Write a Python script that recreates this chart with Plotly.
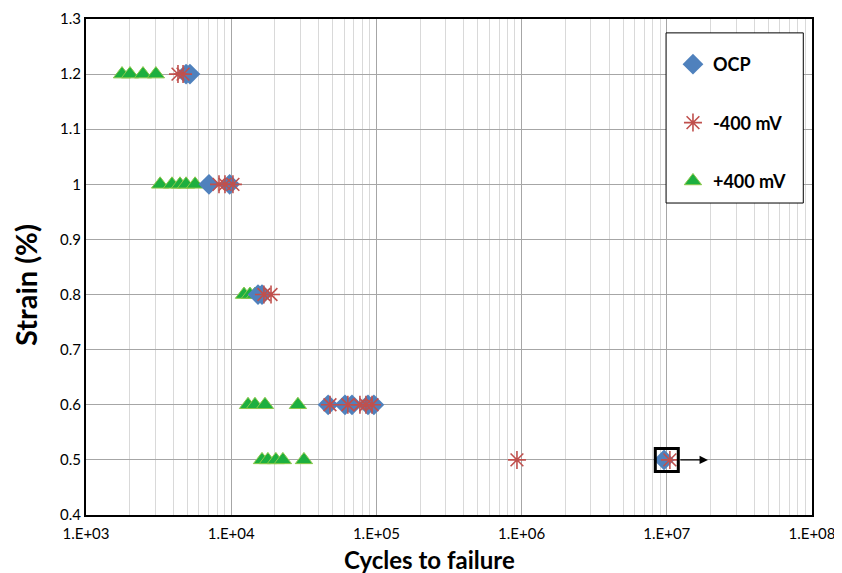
import math
import plotly.graph_objects as go

# OCP (diamonds)
ocp_x = [4890, 5200, 7030, 9760, 15300, 16300, 46500, 60800, 67900, 87500, 96100, 9.57e6]
ocp_y = [1.2, 1.2, 1.0, 1.0, 0.8, 0.8, 0.6, 0.6, 0.6, 0.6, 0.6, 0.5]
# -400 mV (asterisks)
neg_x = [4300, 4660, 8240, 9060, 10280, 16800, 18800, 47900, 63600, 77000, 84700, 93300, 9.29e5, 1.05e7]
neg_y = [1.2, 1.2, 1.0, 1.0, 1.0, 0.8, 0.8, 0.6, 0.6, 0.6, 0.6, 0.6, 0.5, 0.5]
# +400 mV (triangles)
pos_x = [1770, 2010, 2470, 3030, 3240, 3910, 4440, 4890, 5640, 12250, 13470, 14580,
         13060, 14580, 17090, 28800, 16300, 17900, 20300, 22700, 31700]
pos_y = [1.2, 1.2, 1.2, 1.2, 1.0, 1.0, 1.0, 1.0, 1.0, 0.8, 0.8, 0.8,
         0.6, 0.6, 0.6, 0.6, 0.5, 0.5, 0.5, 0.5, 0.5]
# run-out (no failure) point and arrow end
runout_x = [1.0e7]
runout_y = [0.5]
arrow_end_x = 1.92e7

x_tickvals = [1e3, 1e4, 1e5, 1e6, 1e7, 1e8]
x_ticktext = ["1.E+03", "1.E+04", "1.E+05", "1.E+06", "1.E+07", "1.E+08"]
y_tickvals = [0.4, 0.5, 0.6, 0.7, 0.8, 0.9, 1.0, 1.1, 1.2, 1.3]
y_ticktext = ["0.4", "0.5", "0.6", "0.7", "0.8", "0.9", "1", "1.1", "1.2", "1.3"]
x_title = "Cycles to failure"
y_title = "Strain (%)"

FONT = "Lato, 'Open Sans', sans-serif"

fig = go.Figure()
fig.add_trace(go.Scatter(x=pos_x, y=pos_y, mode="markers", name="+400 mV", legendrank=3,
                         legendgroup="c",
                         marker=dict(symbol="triangle-up", size=15, color="#1DAF3F",
                                     line=dict(color="#8CC84B", width=1))))
fig.add_trace(go.Scatter(x=ocp_x, y=ocp_y, mode="markers", name="OCP", legendrank=1,
                         legendgroup="a",
                         marker=dict(symbol="diamond", size=16, color="#4F81BD",
                                     line=dict(color="#4F81BD", width=0))))
fig.add_trace(go.Scatter(x=neg_x, y=neg_y, mode="markers", name="-400 mV", legendrank=2,
                         legendgroup="b",
                         marker=dict(symbol="asterisk-open", size=15, color="#C0504D",
                                     line=dict(color="#C0504D", width=1.6))))
# run-out box
fig.add_trace(go.Scatter(x=runout_x, y=runout_y, mode="markers", showlegend=False,
                         marker=dict(symbol="square-open", size=23, color="black",
                                     line=dict(color="black", width=3))))
fig.add_annotation(x=math.log10(arrow_end_x), y=runout_y[0],
                   ax=math.log10(runout_x[0] * 1.21), ay=runout_y[0],
                   xref="x", yref="y", axref="x", ayref="y", text="", showarrow=True,
                   arrowhead=2, arrowsize=1.4, arrowwidth=1.2, arrowcolor="black")

# axis titles
fig.add_annotation(text="<b>" + x_title + "</b>", xref="paper", yref="paper",
                   x=0.4725, y=-0.0907, xanchor="center", yanchor="middle", showarrow=False,
                   font=dict(family=FONT, size=24, color="black"))
fig.add_annotation(text="<b>" + y_title + "</b>", xref="paper", yref="paper",
                   x=-0.084, y=0.4637, xanchor="center", yanchor="middle", showarrow=False,
                   textangle=-90, font=dict(family=FONT, size=29, color="black"))

# legend frame
fig.add_shape(type="rect", xref="paper", yref="paper", x0=0.799, x1=0.988, y0=0.629, y1=0.972,
              line=dict(color="black", width=1), fillcolor="white", layer="above")

fig.update_xaxes(type="log", range=[3, 8], tickvals=x_tickvals, ticktext=x_ticktext,
                 showgrid=True, gridcolor="#a6a6a6", gridwidth=1,
                 minor=dict(dtick="D1", showgrid=True, gridcolor="#d9d9d9", gridwidth=1, ticks=""),
                 showline=True, linecolor="black", linewidth=2, mirror=True,
                 ticks="", ticklen=0, ticklabelstandoff=4,
                 tickfont=dict(family=FONT, size=15, color="black"),
                 zeroline=False, automargin=False)
fig.update_yaxes(range=[0.4, 1.3], tickvals=y_tickvals, ticktext=y_ticktext,
                 showgrid=True, gridcolor="#a6a6a6", gridwidth=1,
                 showline=True, linecolor="black", linewidth=2, mirror=True,
                 ticks="", tickfont=dict(family=FONT, size=15, color="black"),
                 zeroline=False, automargin=False)

# the page body has an 8px margin, so the figure is 8px smaller than the window
fig.update_layout(
    width=834, height=565,
    margin=dict(l=78, r=30, t=11, b=58, autoexpand=False),
    paper_bgcolor="white", plot_bgcolor="white",
    showlegend=True,
    legend=dict(x=0.8085, y=0.9456, xanchor="left", yanchor="top",
                borderwidth=0, bgcolor="rgba(0,0,0,0)",
                font=dict(family=FONT, size=18, color="black", weight="bold"),
                tracegroupgap=32, itemwidth=30),
    font=dict(family=FONT),
)

fig.write_html("out.html")
